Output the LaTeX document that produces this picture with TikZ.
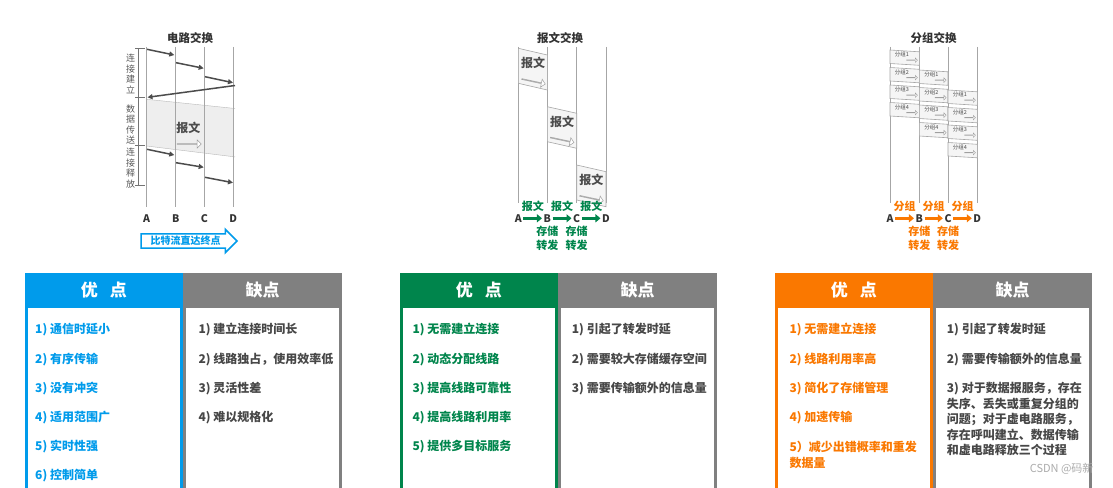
\documentclass[tikz,border=0pt]{standalone}
\usepackage{fontspec}
\setmainfont{Noto Sans CJK SC}
\usetikzlibrary{arrows.meta,shapes.arrows}

\definecolor{ptblue}{RGB}{0,155,235}
\definecolor{ptgreen}{RGB}{0,133,76}
\definecolor{ptorange}{RGB}{250,120,0}
\definecolor{ptgray}{RGB}{128,128,128}

\tikzset{
  title/.style={font=\bfseries\fontsize{11.5}{12}\selectfont, text=black!80},
  wire/.style={draw=gray!70, line width=0.7pt},
  sig/.style={draw=black!70, line width=1.5pt, -{Triangle[length=5pt,width=5pt]}},
  side/.style={draw=black!55, line width=0.6pt},
  sidetext/.style={align=center, inner sep=0pt, text=black!65, font=\fontsize{9}{10.6}\selectfont},
  letter/.style={font=\bfseries\fontsize{10.5}{11}\selectfont, text=black!80, inner sep=1.5pt},
  msgbox/.style={draw=gray!70, fill=gray!8, line width=0.6pt},
  msgtext/.style={font=\bfseries\fontsize{12}{13}\selectfont, text=black!70, inner sep=0pt},
  hollow/.style={single arrow, draw=gray!75, fill=white, line width=0.5pt, inner sep=0pt,
    minimum height=24pt, minimum width=8pt, single arrow head extend=2pt},
  smallhollow/.style={single arrow, draw=gray!75, fill=white, line width=0.4pt, inner sep=0pt,
    minimum height=11pt, minimum width=4.5pt, single arrow head extend=1.2pt},
  pkttext/.style={font=\fontsize{5.5}{6}\selectfont, text=black!70, inner sep=0pt},
  bigarrow/.style={single arrow, draw=ptblue, fill=white, line width=1.6pt, inner sep=1.5pt,
    minimum height=96pt, minimum width=23pt, single arrow head extend=4.5pt,
    font=\bfseries\fontsize{10}{11}\selectfont, text=ptblue},
  hop/.style={line width=3pt, -{Triangle[length=5pt,width=8pt]}},
  hoptext/.style={font=\bfseries\fontsize{11}{12}\selectfont, inner sep=0pt},
  head/.style={font=\bfseries\fontsize{17}{18}\selectfont, text=white},
  item/.style={anchor=west, inner sep=0pt, font=\bfseries\fontsize{12}{14}\selectfont},
  con/.style={anchor=west, inner sep=0pt, align=left, text=black!72,
    font=\bfseries\fontsize{12}{15.4}\selectfont},
}

\begin{document}
\begin{tikzpicture}[x=1pt,y=-1pt]
\useasboundingbox (0,0) rectangle (1113,487);
\clip (0,0) rectangle (1113,487);
\fill[white] (0,0) rectangle (1113,487);

% ---- circuit switching
\node[title] (t1) at (190,38) {电路交换};
\fill[gray!13] (146.7,99.3) -- (233.3,108.3) -- (233.3,156.7) -- (146.7,146) -- cycle;
\draw[gray!55] (146.7,99.3) -- (235,108.5);
\draw[gray!55] (146.7,146) -- (235,156.9);
\draw[wire] (146.7,47) -- (146.7,207);
\draw[wire] (175.7,47) -- (175.7,207);
\draw[wire] (204.3,47) -- (204.3,207);
\draw[wire] (233.3,47) -- (233.3,207);
\draw[side] (138.3,48.3) -- (138.3,185);
\draw[side] (135,48.3) -- (145,48.3);
\draw[side] (135,97.3) -- (145,97.3);
\draw[side] (135,145.5) -- (145,145.5);
\draw[side] (135,185) -- (145,185);
\node[sidetext] (s1) at (130.5,74) {连\\接\\建\\立};
\node[sidetext] (s2) at (130.5,124.5) {数\\据\\传\\送};
\node[sidetext] (s3) at (130.5,168) {连\\接\\释\\放};
\draw[sig] (147,49.3) -- (174.3,55);
\draw[sig] (176,62.7) -- (203.7,68.3);
\draw[sig] (205,76.7) -- (233,82.7);
\draw[sig] (235,85.5) -- (147.5,97.3);
\node[msgtext] (c0) at (188.3,128.3) {报文};
\node[hollow] (ca0) at (189,144) {};
\draw[sig] (147,149.3) -- (174.3,155);
\draw[sig] (176,162.7) -- (203.7,167.3);
\draw[sig] (205,177.3) -- (233,182.7);
\node[letter] (ca) at (146.7,218.3) {A};
\node[letter] (cb) at (175.7,218.3) {B};
\node[letter] (cc) at (204.3,218.3) {C};
\node[letter] (cd) at (233.3,218.3) {D};
\node[bigarrow] (bits) at (185.5,241) {比特流直达终点};

% ---- message switching
\node[title] (t2) at (560,38) {报文交换};
\draw[wire] (518.3,47) -- (518.3,203);
\draw[wire] (547.3,47) -- (547.3,203);
\draw[wire] (576.7,47) -- (576.7,203);
\draw[wire] (606,47) -- (606,203);
\draw[msgbox] (518.3,48.3) -- (547.3,55) -- (547.3,90) -- (518.3,83.3) -- cycle;
\draw[msgbox] (547.3,106.7) -- (576.7,113.3) -- (576.7,148.3) -- (547.3,141.7) -- cycle;
\draw[msgbox] (576.7,165) -- (606,171.7) -- (606,206.7) -- (576.7,200) -- cycle;
\node[msgtext] (m1) at (533,63.3) {报文};
\node[msgtext] (m2) at (562,121.7) {报文};
\node[msgtext] (m3) at (591.3,180) {报文};
\node[hollow, rotate=-12] (ma1) at (533.3,81.5) {};
\node[hollow, rotate=-12] (ma2) at (562,140) {};
\node[hollow, rotate=-12] (ma3) at (591.3,198.3) {};
\node[hoptext, text=ptgreen] (ml1) at (532.8,206.7) {报文};
\node[hoptext, text=ptgreen] (ml2) at (562,206.7) {报文};
\node[hoptext, text=ptgreen] (ml3) at (591.3,206.7) {报文};
\node[letter] (ma) at (518.3,218.3) {A};
\node[letter] (mb) at (547.3,218.3) {B};
\node[letter] (mc) at (576.7,218.3) {C};
\node[letter] (md) at (606,218.3) {D};
\draw[hop, ptgreen] (ma) -- (mb);
\draw[hop, ptgreen] (mb) -- (mc);
\draw[hop, ptgreen] (mc) -- (md);
\node[hoptext, text=ptgreen] (ms1) at (547.3,231.7) {存储};
\node[hoptext, text=ptgreen] (ms2) at (576.7,231.7) {存储};
\node[hoptext, text=ptgreen] (mf1) at (547.3,245) {转发};
\node[hoptext, text=ptgreen] (mf2) at (576.7,245) {转发};

% ---- packet switching
\node[title] (t3) at (933.5,38) {分组交换};
\draw[wire] (890,47) -- (890,203);
\draw[wire] (919.3,47) -- (919.3,203);
\draw[wire] (948,47) -- (948,203);
\draw[wire] (977.3,47) -- (977.3,203);
\foreach \xa/\xb/\ya in {890/919.3/50, 919.3/948/70, 948/977.3/90}
  \foreach \k in {1,...,4} {
    \pgfmathsetmacro\yt{\ya+17.5*(\k-1)}
    \draw[msgbox] (\xa,\yt) -- (\xb,\yt+1.8) -- (\xb,\yt+15.3) -- (\xa,\yt+13.5) -- cycle;
    \node[pkttext] at (\xa+12,\yt+4.6) {分组\k};
    \node[smallhollow] at (\xb-7.5,\yt+10.2) {};
  }
\node[hoptext, text=ptorange] (pl1) at (904.6,206.7) {分组};
\node[hoptext, text=ptorange] (pl2) at (933.6,206.7) {分组};
\node[hoptext, text=ptorange] (pl3) at (962.6,206.7) {分组};
\node[letter] (pa) at (890,218.3) {A};
\node[letter] (pb) at (919.3,218.3) {B};
\node[letter] (pc) at (948,218.3) {C};
\node[letter] (pd) at (977.3,218.3) {D};
\draw[hop, ptorange] (pa) -- (pb);
\draw[hop, ptorange] (pb) -- (pc);
\draw[hop, ptorange] (pc) -- (pd);
\node[hoptext, text=ptorange] (ps1) at (919.3,231.7) {存储};
\node[hoptext, text=ptorange] (ps2) at (948,231.7) {存储};
\node[hoptext, text=ptorange] (pf1) at (919.3,245) {转发};
\node[hoptext, text=ptorange] (pf2) at (948,245) {转发};

% ---- tables
\fill[ptblue] (25,272.7) rectangle (182.6,500);
\fill[white] (27.5,308) rectangle (180.1,500);
\fill[ptgray] (183.4,272.7) rectangle (341.6,500);
\fill[white] (185.9,308) rectangle (339.1,500);
\node[head] (h1) at (103.8,290.5) {优\hspace{12pt}点};
\node[head] (h2) at (262.5,290.5) {缺点};
\node[item, text=ptblue] (a1) at (35,330) {1) 通信时延小};
\node[item, text=ptblue] (a2) at (35,359.3) {2) 有序传输};
\node[item, text=ptblue] (a3) at (35,388.3) {3) 没有冲突};
\node[item, text=ptblue] (a4) at (35,417.7) {4) 适用范围广};
\node[item, text=ptblue] (a5) at (35,446.7) {5) 实时性强};
\node[item, text=ptblue] (a6) at (35,476) {6) 控制简单};
\node[con] (b1) at (198.3,330) {1) 建立连接时间长};
\node[con] (b2) at (198.3,359.3) {2) 线路独占，使用效率低};
\node[con] (b3) at (198.3,388.3) {3) 灵活性差};
\node[con] (b4) at (198.3,417.7) {4) 难以规格化};

\fill[ptgreen] (400,272.7) rectangle (557.8,500);
\fill[white] (402.5,308) rectangle (555.3,500);
\fill[ptgray] (558.4,272.7) rectangle (716.6,500);
\fill[white] (560.9,308) rectangle (714.1,500);
\node[head] (h3) at (478.9,290.5) {优\hspace{12pt}点};
\node[head] (h4) at (637.5,290.5) {缺点};
\node[item, text=ptgreen] (c1) at (412.3,330) {1) 无需建立连接};
\node[item, text=ptgreen] (c2) at (412.3,359.3) {2) 动态分配线路};
\node[item, text=ptgreen] (c3) at (412.3,388.3) {3) 提高线路可靠性};
\node[item, text=ptgreen] (c4) at (412.3,417.7) {4) 提高线路利用率};
\node[item, text=ptgreen] (c5) at (412.3,446.7) {5) 提供多目标服务};
\node[con] (d1) at (571.7,330) {1) 引起了转发时延};
\node[con] (d2) at (571.7,359.3) {2) 需要较大存储缓存空间};
\node[con] (d3) at (571.7,388.3) {3) 需要传输额外的信息量};

\fill[ptorange] (775,272.7) rectangle (932.8,500);
\fill[white] (777.5,308) rectangle (930.3,500);
\fill[ptgray] (933.4,272.7) rectangle (1091.6,500);
\fill[white] (935.9,308) rectangle (1089.1,500);
\node[head] (h5) at (853.9,290.5) {优\hspace{12pt}点};
\node[head] (h6) at (1012.5,290.5) {缺点};
\node[item, text=ptorange] (e1) at (789.3,330) {1) 无需建立连接};
\node[item, text=ptorange] (e2) at (789.3,359.3) {2) 线路利用率高};
\node[item, text=ptorange] (e3) at (789.3,388.3) {3) 简化了存储管理};
\node[item, text=ptorange] (e4) at (789.3,417.7) {4) 加速传输};
\node[item, text=ptorange, align=left, font=\bfseries\fontsize{12}{16.6}\selectfont] (e5) at (789.3,455) {5）减少出错概率和重发\\数据量};
\node[con] (f1) at (946.7,330) {1) 引起了转发时延};
\node[con] (f2) at (946.7,359.3) {2) 需要传输额外的信息量};
\node[con] (f3) at (946.7,419.2) {3) 对于数据报服务，存在\\失序、丢失或重复分组的\\问题；对于虚电路服务，\\存在呼叫建立、数据传输\\和虚电路释放三个过程};

\node[anchor=east, text=gray!65, font=\fontsize{11}{12}\selectfont] (wm) at (1097,469) {CSDN @码新};
\end{tikzpicture}
\end{document}
